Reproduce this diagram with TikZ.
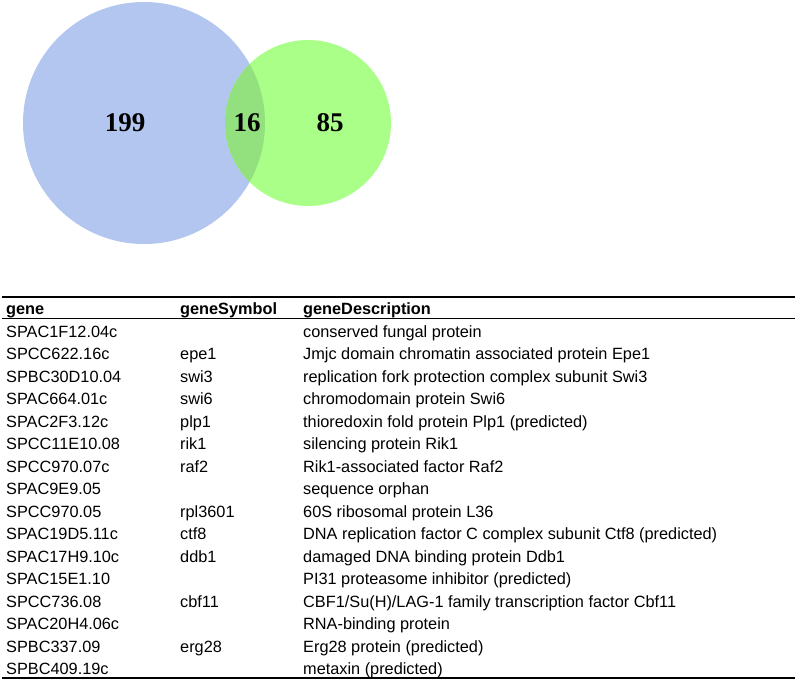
\documentclass[tikz,border=0pt]{standalone}
\usepackage{fontspec}
\setmainfont{Liberation Sans}
\newfontfamily\vennfont{Liberation Serif}
\definecolor{vblue}{HTML}{B3C6F0}
\definecolor{vgreen}{HTML}{AAFF88}
\definecolor{vboth}{HTML}{93E07F}
\begin{document}
\begin{tikzpicture}[x=1pt,y=-1pt,
  cell/.style={anchor=base west,inner sep=0pt,font=\fontsize{16.3}{19}\selectfont},
  head/.style={cell,font=\fontsize{16.3}{19}\selectfont\bfseries},
  num/.style={inner sep=0pt,font=\vennfont\fontsize{27}{30}\selectfont\bfseries},
  rule/.style={line width=#1}]
\useasboundingbox (0,0) rectangle (797,680);
% Venn
\fill[vblue] (144,123) circle (121);
\fill[vgreen] (308,123) circle (83);
\begin{scope}
\clip (144,123) circle (121);
\fill[vboth] (308,123) circle (83);
\end{scope}
\node[num] (n199) at (125,123) {199};
\node[num] (n16) at (247,123) {16};
\node[num] (n85) at (330,123) {85};
% table rules
\coordinate (tl) at (2,297); \coordinate (tr) at (795,297);
\coordinate (hl) at (2,318.5); \coordinate (hr) at (795,318.5);
\coordinate (bl) at (2,678); \coordinate (br) at (795,678);
\draw[rule=1.6pt] (tl) -- (tr);
\draw[rule=1.2pt] (hl) -- (hr);
\draw[rule=1.6pt] (bl) -- (br);
\node[head] (h1) at (6,314) {gene};
\node[head] (h2) at (180,314) {geneSymbol};
\node[head] (h3) at (303,314) {geneDescription};
\foreach \g/\s/\d [count=\i from 0] in {
 SPAC1F12.04c//conserved fungal protein,
 SPCC622.16c/epe1/Jmjc domain chromatin associated protein Epe1,
 SPBC30D10.04/swi3/replication fork protection complex subunit Swi3,
 SPAC664.01c/swi6/chromodomain protein Swi6,
 SPAC2F3.12c/plp1/thioredoxin fold protein Plp1 (predicted),
 SPCC11E10.08/rik1/silencing protein Rik1,
 SPCC970.07c/raf2/Rik1-associated factor Raf2,
 SPAC9E9.05//sequence orphan,
 SPCC970.05/rpl3601/60S ribosomal protein L36,
 SPAC19D5.11c/ctf8/DNA replication factor C complex subunit Ctf8 (predicted),
 SPAC17H9.10c/ddb1/damaged DNA binding protein Ddb1,
 SPAC15E1.10//PI31 proteasome inhibitor (predicted),
 SPCC736.08/cbf11/CBF1\slash Su(H)\slash LAG-1 family transcription factor Cbf11,
 SPAC20H4.06c//RNA-binding protein,
 SPBC337.09/erg28/Erg28 protein (predicted),
 SPBC409.19c//metaxin (predicted)}{
 \node[cell] (g\i) at (6,{337+22.5*\i}) {\g};
 \node[cell] (s\i) at (180,{337+22.5*\i}) {\s};
 \node[cell] (d\i) at (303,{337+22.5*\i}) {\d};
}
\end{tikzpicture}
\end{document}
